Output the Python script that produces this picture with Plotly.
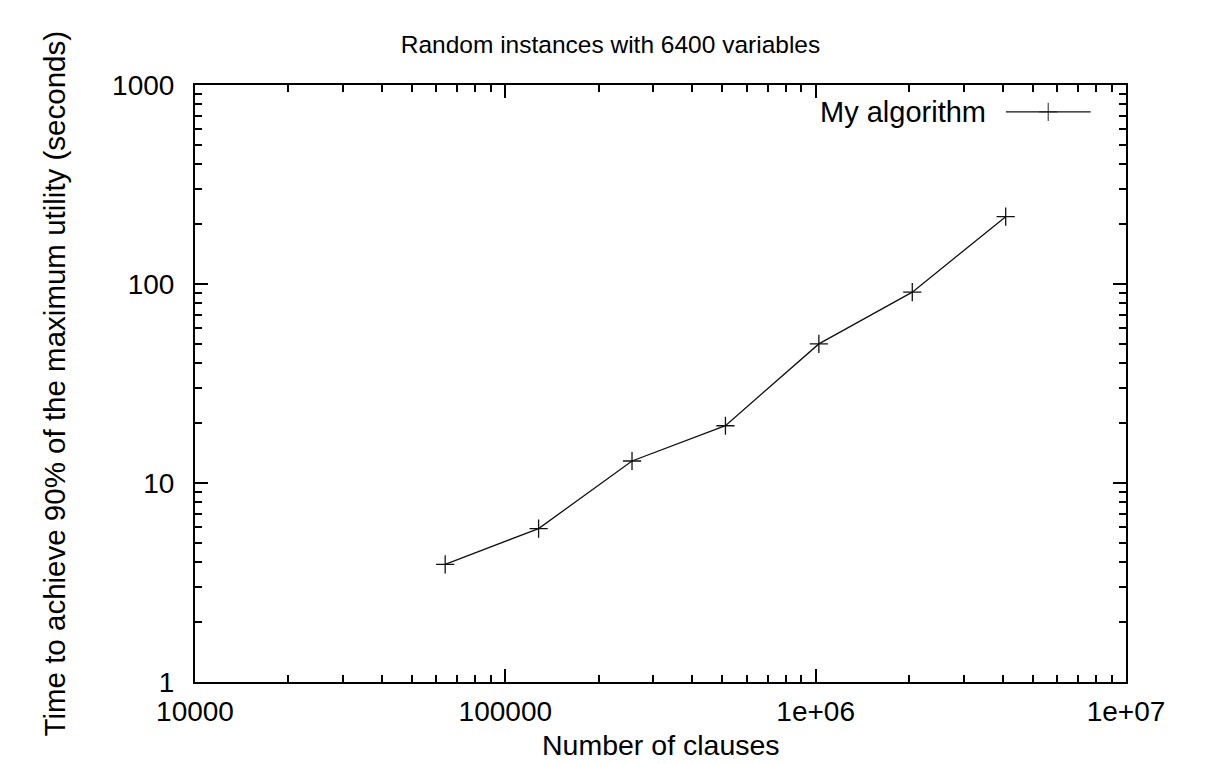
import plotly.graph_objects as go

# ---- data ----
clauses = [64000, 128000, 256000, 512000, 1024000, 2048000, 4096000]
times = [3.9, 5.9, 12.9, 19.4, 50, 91, 218]
series_name = "My algorithm"

x_tickvals = [1e4, 1e5, 1e6, 1e7]
x_ticktext = ["10000", "100000", "1e+06", "1e+07"]
y_tickvals = [1, 10, 100, 1000]
y_ticktext = ["1", "10", "100", "1000"]

x_minor = [m * 10 ** e for e in range(4, 7) for m in range(2, 10)]
y_minor = [m * 10 ** e for e in range(0, 3) for m in range(2, 10)]

FONT = "Liberation Sans, Arial, Helvetica, sans-serif"

# page body has an 8px default margin; size the figure to fit inside it
W, H = 1205, 756

fig = go.Figure()
fig.add_trace(go.Scatter(
    x=clauses, y=times, mode="lines+markers", name=series_name,
    line=dict(color="#111111", width=1.3),
    marker=dict(symbol="cross-thin", size=13, line=dict(color="#111111", width=1.3)),
    showlegend=False,
))

# legend key (gnuplot style: text on the left, sample on the right)
key_x = [0.871, 0.9165, 0.962]
key_y = [0.955, 0.955, 0.955]
fig.add_trace(go.Scatter(
    x=key_x, y=key_y, xaxis="x2", yaxis="y2", mode="lines+markers",
    line=dict(color="#111111", width=1.3),
    marker=dict(symbol="cross-thin", size=[0, 13, 0], line=dict(color="#111111", width=1.3)),
    showlegend=False, hoverinfo="skip",
))

axis_common = dict(
    type="log", showline=True, linecolor="black", linewidth=2,
    mirror="allticks", ticks="inside", ticklen=13, tickwidth=2, tickcolor="black",
    showgrid=False, zeroline=False,
    tickfont=dict(family=FONT, size=28, color="black"),
)

fig.update_layout(
    width=W, height=H,
    margin=dict(l=187, r=87, t=77, b=82, autoexpand=False),
    paper_bgcolor="white", plot_bgcolor="white",
    font=dict(family=FONT, color="black"),
    title=dict(text="Random instances with 6400 variables", x=0.5, xref="container",
               xanchor="center", y=1 - 36 / H, yref="container", yanchor="middle",
               font=dict(family=FONT, size=24.5, color="black")),
    xaxis=dict(**axis_common, range=[4, 7], tickvals=x_tickvals, ticktext=x_ticktext,
               minor=dict(tickvals=x_minor, ticks="inside", ticklen=7, tickwidth=2, tickcolor="black"),
               ticklabelstandoff=3),
    yaxis=dict(**axis_common, range=[0, 3], tickvals=y_tickvals, ticktext=y_ticktext,
               minor=dict(tickvals=y_minor, ticks="inside", ticklen=7, tickwidth=2, tickcolor="black"),
               ticklabelstandoff=13),
    xaxis2=dict(overlaying="x", range=[0, 1], visible=False),
    yaxis2=dict(overlaying="y", range=[0, 1], visible=False),
    annotations=[
        dict(text=series_name, xref="paper", yref="paper", x=0.8518, y=0.955,
             xanchor="right", yanchor="middle", showarrow=False,
             font=dict(family=FONT, size=29, color="black")),
        dict(text="Number of clauses", xref="paper", yref="paper", x=0.5, y=-0.1055,
             xanchor="center", yanchor="middle", showarrow=False,
             font=dict(family=FONT, size=28.5, color="black")),
        dict(text="Time to achieve 90% of the maximum utility (seconds)", xref="paper", yref="paper",
             x=-0.1504, y=0.5, xanchor="center", yanchor="middle", textangle=-90, showarrow=False,
             font=dict(family=FONT, size=29.5, color="black")),
    ],
)

fig.write_html("out.html")
